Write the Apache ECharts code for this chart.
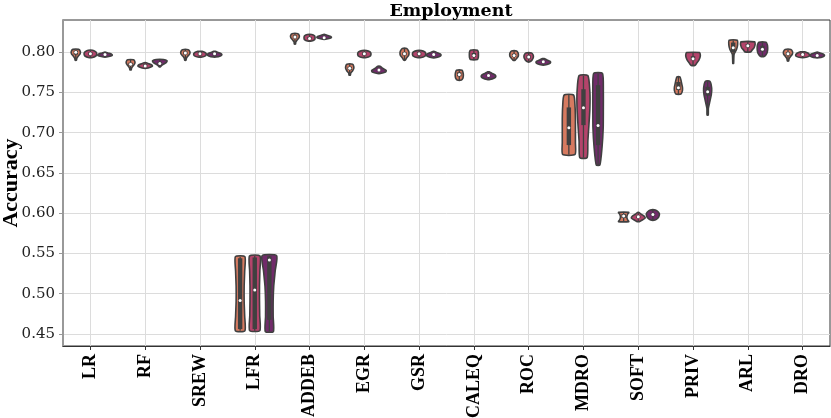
<!DOCTYPE html>
<html>
<head>
<meta charset="utf-8">
<script src="https://cdn.jsdelivr.net/npm/echarts@6/dist/echarts.min.js"></script>
<style>
    html, body {margin: 0; padding: 0; background: #fff;}
    #chart {width: 831px; height: 418px;}
</style>
</head>
<body>
<div id="chart"></div>
<script>
const categories = ['LR', 'RF', 'SREW', 'LFR', 'ADDEB', 'EGR', 'GSR', 'CALEQ', 'ROC', 'MDRO', 'SOFT', 'PRIV', 'ARL', 'DRO']
const yTicks = [0.45, 0.50, 0.55, 0.60, 0.65, 0.70, 0.75, 0.80]

// [min, q1, median, q3, max] per category, one list per hue
const hue0Stats = [
    [0.790, 0.797, 0.800, 0.802, 0.8035], [0.778, 0.783, 0.785, 0.787, 0.7905], [0.790, 0.797, 0.799, 0.801, 0.803],
    [0.4538, 0.456, 0.4915, 0.544, 0.546], [0.810, 0.817, 0.819, 0.821, 0.823], [0.7715, 0.778, 0.780, 0.782, 0.785],
    [0.790, 0.796, 0.798, 0.800, 0.8045], [0.7655, 0.770, 0.7723, 0.775, 0.7775], [0.790, 0.794, 0.796, 0.798, 0.8015],
    [0.673, 0.6846, 0.706, 0.7314, 0.7467], [0.5895, 0.594, 0.5965, 0.599, 0.601], [0.748, 0.753, 0.7557, 0.763, 0.7694],
    [0.786, 0.800, 0.8054, 0.812, 0.8149], [0.789, 0.796, 0.798, 0.800, 0.8034]
]
const hue1Stats = [
    [0.7935, 0.796, 0.798, 0.800, 0.8025], [0.780, 0.782, 0.783, 0.785, 0.787], [0.794, 0.796, 0.798, 0.800, 0.801],
    [0.4541, 0.456, 0.5047, 0.545, 0.5469], [0.814, 0.816, 0.817, 0.819, 0.822], [0.7935, 0.796, 0.798, 0.800, 0.802],
    [0.7935, 0.796, 0.798, 0.800, 0.802], [0.791, 0.794, 0.796, 0.799, 0.8025], [0.788, 0.792, 0.794, 0.796, 0.799],
    [0.669, 0.7094, 0.731, 0.754, 0.771], [0.5895, 0.594, 0.5955, 0.597, 0.601], [0.7839, 0.790, 0.792, 0.795, 0.7996],
    [0.8004, 0.806, 0.8079, 0.810, 0.8128], [0.7934, 0.796, 0.797, 0.799, 0.8004]
]
const hue2Stats = [
    [0.794, 0.796, 0.797, 0.798, 0.800], [0.782, 0.785, 0.786, 0.788, 0.791], [0.794, 0.796, 0.798, 0.799, 0.801],
    [0.453, 0.4675, 0.5419, 0.5465, 0.5472], [0.816, 0.817, 0.818, 0.819, 0.822], [0.7735, 0.777, 0.778, 0.779, 0.7826],
    [0.793, 0.796, 0.797, 0.798, 0.801], [0.766, 0.770, 0.771, 0.772, 0.7756], [0.784, 0.787, 0.788, 0.789, 0.792],
    [0.660, 0.6846, 0.709, 0.759, 0.7736], [0.5915, 0.597, 0.5985, 0.600, 0.604], [0.7218, 0.746, 0.7508, 0.757, 0.764],
    [0.795, 0.801, 0.8037, 0.808, 0.8124], [0.793, 0.795, 0.796, 0.797, 0.800]
]

// relative density width, bottom (min) to top (max)
const hue0Shape = [
    [0.08, 0.15, 0.35, 0.6, 0.62, 0.4], [0.08, 0.15, 0.35, 0.55, 0.6, 0.4], [0.08, 0.15, 0.35, 0.6, 0.62, 0.4],
    [0.65, 0.62, 0.55, 0.55, 0.62, 0.65], [0.08, 0.12, 0.3, 0.55, 0.6, 0.4], [0.08, 0.15, 0.4, 0.55, 0.55, 0.4],
    [0.1, 0.3, 0.55, 0.62, 0.55, 0.3], [0.3, 0.5, 0.55, 0.55, 0.5, 0.4], [0.15, 0.35, 0.55, 0.6, 0.55, 0.35],
    [0.85, 0.9, 0.9, 0.9, 0.85, 0.65], [0.7, 0.55, 0.45, 0.45, 0.55, 0.7], [0.35, 0.55, 0.55, 0.45, 0.35, 0.2],
    [0.05, 0.08, 0.12, 0.45, 0.6, 0.55], [0.08, 0.15, 0.35, 0.6, 0.62, 0.4]
]
const hue1Shape = [
    [0.3, 0.75, 0.85, 0.85, 0.7, 0.3], [0.2, 0.7, 1.0, 0.9, 0.5, 0.15], [0.3, 0.75, 0.85, 0.85, 0.7, 0.3],
    [0.7, 0.68, 0.65, 0.65, 0.7, 0.72], [0.3, 0.7, 0.75, 0.75, 0.7, 0.3], [0.3, 0.8, 0.9, 0.9, 0.8, 0.3],
    [0.3, 0.8, 0.9, 0.9, 0.8, 0.3], [0.5, 0.6, 0.62, 0.62, 0.6, 0.5], [0.15, 0.45, 0.6, 0.65, 0.6, 0.4],
    [0.5, 0.6, 0.75, 0.88, 0.88, 0.6], [0.15, 0.6, 0.95, 0.8, 0.4, 0.1], [0.3, 0.55, 0.8, 0.95, 1.0, 0.9],
    [0.4, 0.6, 0.85, 0.95, 1.0, 0.95], [0.3, 0.85, 0.95, 0.9, 0.7, 0.3]
]
const hue2Shape = [
    [0.2, 0.8, 1.0, 0.9, 0.5, 0.1], [0.1, 0.3, 0.6, 0.9, 1.0, 0.5], [0.2, 0.8, 1.0, 0.9, 0.5, 0.1],
    [0.55, 0.52, 0.52, 0.6, 0.8, 1.0], [0.2, 0.8, 1.0, 0.9, 0.5, 0.1], [0.2, 0.9, 1.0, 0.7, 0.4, 0.15],
    [0.2, 0.8, 1.0, 0.9, 0.5, 0.1], [0.2, 0.8, 1.0, 0.9, 0.5, 0.1], [0.2, 0.8, 1.0, 0.9, 0.5, 0.1],
    [0.25, 0.55, 0.7, 0.72, 0.72, 0.6], [0.3, 0.7, 0.85, 0.9, 0.75, 0.35], [0.08, 0.1, 0.3, 0.5, 0.55, 0.3],
    [0.3, 0.6, 0.7, 0.72, 0.68, 0.5], [0.2, 0.8, 1.0, 0.9, 0.5, 0.1]
]

const hueColors = ['#d67a60', '#b4446b', '#712b6a']
const edgeColor = '#404040'

function buildData(stats, shape) {
    return stats.map((s, i) => [i].concat(s, shape[i]))
}

function violinRenderer(hue) {
    return function (params, api) {
        let idx = api.value(0)
        let lo = api.value(1), q1 = api.value(2), med = api.value(3), q3 = api.value(4), hi = api.value(5)
        let widths = []
        for (let k = 6; k < 12; k++) {
            widths.push(api.value(k))
        }
        let band = api.size([1, 0])[0]
        let slot = band * 0.8 / 3
        let cx = api.coord([idx, med])[0] + (hue - 1) * slot
        let n = widths.length
        let right = []
        let left = []
        for (let k = 0; k < n; k++) {
            let v = lo + (hi - lo) * k / (n - 1)
            let y = api.coord([idx, v])[1]
            let hw = widths[k] * slot / 2
            right.push([cx + hw, y])
            left.unshift([cx - hw, y])
        }
        let yLo = api.coord([idx, lo])[1]
        let yHi = api.coord([idx, hi])[1]
        let yQ1 = api.coord([idx, q1])[1]
        let yQ3 = api.coord([idx, q3])[1]
        let yMed = api.coord([idx, med])[1]
        return {
            type: 'group',
            children: [
                {
                    type: 'polygon',
                    shape: {points: right.concat(left), smooth: 0.2},
                    style: {fill: hueColors[hue], stroke: edgeColor, lineWidth: 1.6}
                },
                {
                    type: 'line',
                    shape: {x1: cx, y1: yLo, x2: cx, y2: yHi},
                    style: {stroke: edgeColor, lineWidth: 1.3}
                },
                {
                    type: 'rect',
                    shape: {x: cx - 2.2, y: yQ3, width: 4.4, height: Math.max(yQ1 - yQ3, 1)},
                    style: {fill: edgeColor}
                },
                {
                    type: 'circle',
                    shape: {cx: cx, cy: yMed, r: 1.5},
                    style: {fill: '#ffffff'}
                }
            ]
        }
    }
}

let chartDom = document.getElementById('chart')
let myChart = echarts.init(chartDom, null, {renderer: 'canvas'})

let option = {
    animation: false,
    backgroundColor: '#ffffff',
    title: {
        text: 'Employment',
        left: 446,
        top: -3,
        textAlign: 'center',
        textStyle: {fontFamily: 'DejaVu Serif', fontWeight: 'bold', fontSize: 17.5, color: '#000'}
    },
    grid: {
        left: 63, right: 1, top: 20, bottom: 72,
        containLabel: false,
        outerBoundsMode: 'none',
        show: true, borderColor: '#333', borderWidth: 1
    },
    xAxis: {
        type: 'value',
        min: -0.5,
        max: categories.length - 0.5,
        axisLine: {show: true, onZero: false, lineStyle: {color: '#333', width: 1.2}},
        axisTick: {show: true, length: 4, customValues: categories.map((c, i) => i), lineStyle: {color: '#333'}},
        axisLabel: {
            customValues: categories.map((c, i) => i),
            formatter: v => categories[Math.round(v)],
            rotate: 90,
            margin: 8,
            fontFamily: 'Liberation Serif',
            fontWeight: 'bold',
            fontSize: 18,
            color: '#000'
        },
        splitLine: {show: true, lineStyle: {color: '#dcdcdc', width: 1}}
    },
    yAxis: {
        type: 'value',
        min: 0.435,
        max: 0.84,
        name: 'Accuracy',
        nameLocation: 'middle',
        nameGap: 41,
        nameRotate: 90,
        nameMoveOverlap: false,
        nameTextStyle: {fontFamily: 'Liberation Serif', fontWeight: 'bold', fontSize: 22, color: '#000'},
        axisLine: {show: true, onZero: false, lineStyle: {color: '#999', width: 2}},
        axisTick: {show: true, length: 4, customValues: yTicks, lineStyle: {color: '#999'}},
        axisLabel: {
            customValues: yTicks,
            formatter: v => v.toFixed(2),
            margin: 8,
            fontFamily: 'DejaVu Serif',
            fontSize: 15,
            color: '#222'
        },
        splitLine: {show: true, lineStyle: {color: '#dcdcdc', width: 1}}
    },
    series: [
        {type: 'custom', renderItem: violinRenderer(0), data: buildData(hue0Stats, hue0Shape), encode: {x: 0, y: [1, 5]}},
        {type: 'custom', renderItem: violinRenderer(1), data: buildData(hue1Stats, hue1Shape), encode: {x: 0, y: [1, 5]}},
        {type: 'custom', renderItem: violinRenderer(2), data: buildData(hue2Stats, hue2Shape), encode: {x: 0, y: [1, 5]}}
    ]
}
myChart.setOption(option)
</script>
</body>
</html>
